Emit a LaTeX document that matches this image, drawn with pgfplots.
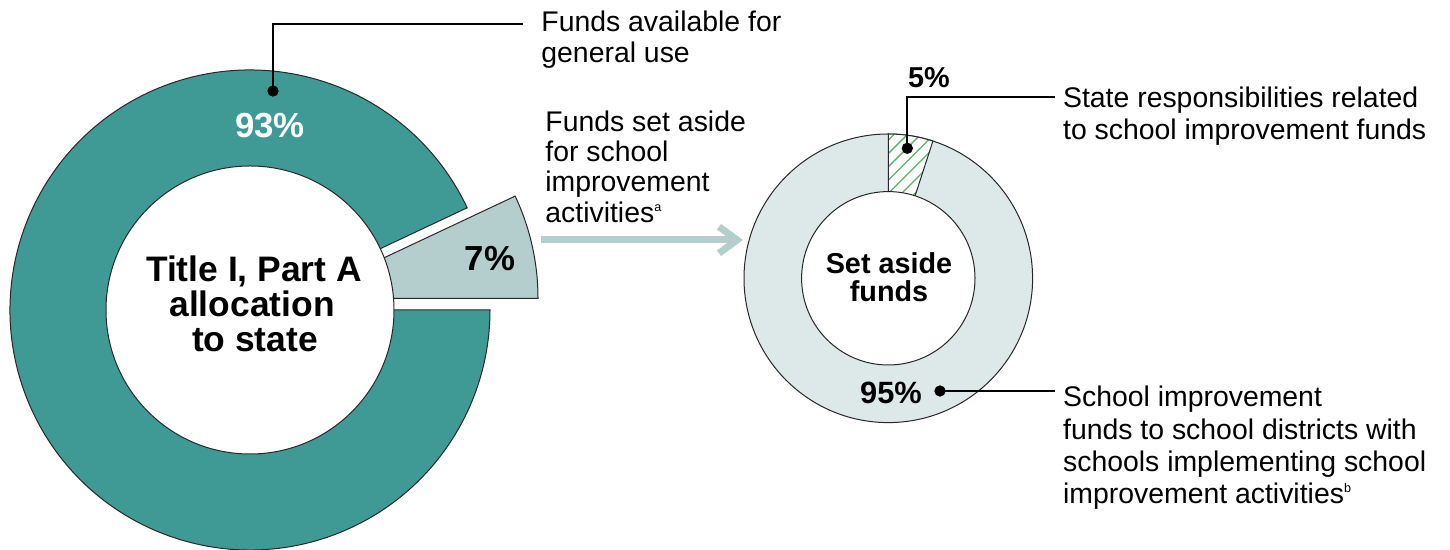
\documentclass[border=0pt]{standalone}
\usepackage{fontspec}
\setmainfont{Liberation Sans}
\usepackage{pgfplots}
\usepackage{pgfplotstable}
\pgfplotsset{compat=1.18}
\usetikzlibrary{patterns.meta}
\definecolor{tealc}{RGB}{63,153,148}
\definecolor{slicegray}{RGB}{179,206,204}
\definecolor{lightfill}{RGB}{221,232,232}
\definecolor{hatchgreen}{RGB}{92,178,100}
\definecolor{edge}{RGB}{40,40,40}

\pgfplotstableread{
part value
general 93
setaside 7
}\allocation
\pgfplotstableread{
part value
state 5
districts 95
}\setasidefunds

\newcommand\reg{\fontsize{14.2pt}{17pt}\selectfont}
\newcommand\supnote[1]{\raisebox{0.72ex}{\fontsize{6.3pt}{7pt}\selectfont #1}}

\begin{document}
\begin{tikzpicture}
\pgfplotstablegetelem{1}{value}\of\allocation
\pgfmathsetmacro{\angSet}{3.6*\pgfplotsretval}
\pgfplotstablegetelem{0}{value}\of\setasidefunds
\pgfmathsetmacro{\angState}{3.6*\pgfplotsretval}
\pgfmathsetmacro{\angStateStart}{90-\angState}
\begin{axis}[
  at={(0pt,0pt)}, anchor=south west,
  scale only axis, width=725pt, height=275pt,
  xmin=0, xmax=1450, ymin=0, ymax=550,
  hide axis, clip=false,
]
% ---- left donut: allocation to state
\filldraw[fill=tealc, draw=edge, line width=0.5pt]
  (axis cs:250,240) -- ++(\angSet:120pt)
  arc[start angle=\angSet, end angle=360, radius=120pt] -- cycle;
\filldraw[fill=slicegray, draw=edge, line width=0.5pt]
  (axis cs:298,251.7) -- ++(0:120pt)
  arc[start angle=0, end angle=\angSet, radius=120pt] -- cycle;
\filldraw[fill=white, draw=edge, line width=0.5pt]
  (axis cs:250,240) circle[radius=72pt];

% ---- right donut: set aside funds
\filldraw[fill=lightfill, draw=edge, line width=0.5pt]
  (axis cs:888.3,271.7) circle[radius=72.15pt];
\fill[white]
  (axis cs:888.3,271.7) -- ++(\angStateStart:72.15pt)
  arc[start angle=\angStateStart, end angle=90, radius=72.15pt] -- cycle;
\fill[pattern={Lines[angle=45,distance=4.7pt,line width=0.65pt]}, pattern color=hatchgreen]
  (axis cs:888.3,271.7) -- ++(\angStateStart:72.15pt)
  arc[start angle=\angStateStart, end angle=90, radius=72.15pt] -- cycle;
\draw[edge, line width=0.5pt]
  (axis cs:888.3,271.7) -- ++(\angStateStart:72.15pt)
  arc[start angle=\angStateStart, end angle=90, radius=72.15pt] -- cycle;
\filldraw[fill=white, draw=edge, line width=0.5pt]
  (axis cs:888.3,271.7) circle[radius=43.35pt];

% ---- arrow
\draw[slicegray, line width=3.5pt] (axis cs:541,310) -- (axis cs:734,310);
\draw[slicegray, line width=3.5pt, line join=miter]
  (axis cs:719,323.3) -- (axis cs:737,310) -- (axis cs:719,296.7);

% ---- leader lines and dots
\addplot[black, line width=0.9pt, mark=none] coordinates {(273,459) (273,525.7) (523,525.7)};
\addplot[black, line width=0.9pt, mark=none] coordinates {(907.3,401.7) (907.3,453) (1055,453)};
\addplot[black, line width=0.9pt, mark=none] coordinates {(940,159) (1055,159)};
\addplot[only marks, mark=*, mark size=2.6pt, black] coordinates {(273,459) (907.3,401.7) (940,159)};

% ---- value labels
\node[anchor=base, inner sep=0pt, text=white, font=\fontsize{17.4pt}{20pt}\selectfont\bfseries] at (axis cs:270,412) {93\%};
\node[anchor=base, inner sep=0pt, font=\fontsize{17.4pt}{20pt}\selectfont\bfseries] at (axis cs:490,279.3) {7\%};
\node[anchor=base, inner sep=0pt, font=\fontsize{14.4pt}{17pt}\selectfont\bfseries] at (axis cs:929,462.7) {5\%};
\node[anchor=base, inner sep=0pt, font=\fontsize{15.4pt}{18pt}\selectfont\bfseries] at (axis cs:891,146.7) {95\%};

% ---- centre labels
\node[anchor=base, inner sep=0pt, font=\fontsize{17.7pt}{20pt}\selectfont\bfseries] at (axis cs:254,268.3) {Title I, Part A};
\node[anchor=base, inner sep=0pt, font=\fontsize{17.7pt}{20pt}\selectfont\bfseries] at (axis cs:252,233.3) {allocation};
\node[anchor=base, inner sep=0pt, font=\fontsize{17.7pt}{20pt}\selectfont\bfseries] at (axis cs:255,198.3) {to state};
\node[anchor=base, inner sep=0pt, font=\fontsize{14.4pt}{17pt}\selectfont\bfseries] at (axis cs:889,276.7) {Set aside};
\node[anchor=base, inner sep=0pt, font=\fontsize{14.4pt}{17pt}\selectfont\bfseries] at (axis cs:889,248.3) {funds};

% ---- descriptive labels
\node[anchor=base west, inner sep=0pt, font=\reg] at (axis cs:541,518.3) {Funds available for};
\node[anchor=base west, inner sep=0pt, font=\reg] at (axis cs:541,487) {general use};

\node[anchor=base west, inner sep=0pt, font=\reg] at (axis cs:545,418.3) {Funds set aside};
\node[anchor=base west, inner sep=0pt, font=\reg] at (axis cs:545,388.3) {for school};
\node[anchor=base west, inner sep=0pt, font=\reg] at (axis cs:545,358) {improvement};
\node[anchor=base west, inner sep=0pt, font=\reg] at (axis cs:545,327.7) {activities\supnote{a}};

\node[anchor=base west, inner sep=0pt, font=\reg] at (axis cs:1062.7,442.7) {State responsibilities related};
\node[anchor=base west, inner sep=0pt, font=\reg] at (axis cs:1062.7,410) {to school improvement funds};

\node[anchor=base west, inner sep=0pt, font=\reg] at (axis cs:1062.7,143.3) {School improvement};
\node[anchor=base west, inner sep=0pt, font=\reg] at (axis cs:1062.7,110) {funds to school districts with};
\node[anchor=base west, inner sep=0pt, font=\reg] at (axis cs:1062.7,78.3) {schools implementing school};
\node[anchor=base west, inner sep=0pt, font=\reg] at (axis cs:1062.7,46.7) {improvement activities\supnote{b}};
\end{axis}
\pgfresetboundingbox
\path[use as bounding box] (0pt,0pt) rectangle (725pt,275pt);
\end{tikzpicture}
\end{document}
